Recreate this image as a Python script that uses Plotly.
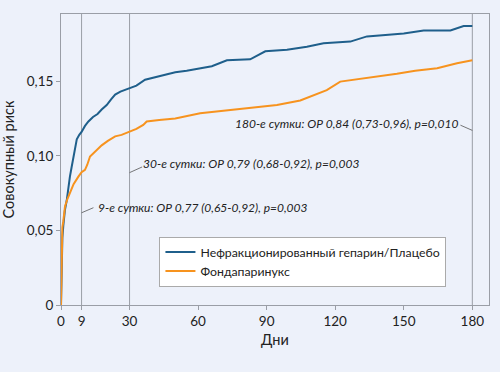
import plotly.graph_objects as go

# Data
days_ufh = [0, 0.3, 0.6, 1.0, 1.75, 2.5, 3.2, 3.9, 4.6, 5.4, 6.2, 6.9, 8.0, 9.0, 10.5, 12.0, 14.0, 16.0, 17.8, 20.0, 22.0, 23.7, 26.0, 29.5,
            33.0, 36.8, 42.0, 50.0, 55.0, 60.9, 66.0, 72.6, 82.8, 89.4, 98.9, 107.6, 114.9, 126.6, 133.9, 142.0, 150.0, 158.7, 170.4, 176.2, 180.0]
risk_ufh = [0, 0.030, 0.045, 0.053, 0.064, 0.070, 0.080, 0.086, 0.092, 0.0995, 0.106, 0.111, 0.114, 0.116, 0.120, 0.123, 0.126, 0.128, 0.131, 0.134, 0.138, 0.141, 0.143, 0.145,
            0.147, 0.151, 0.153, 0.156, 0.157, 0.1586, 0.160, 0.164, 0.1646, 0.170, 0.171, 0.173, 0.1754, 0.1765, 0.180, 0.181, 0.182, 0.184, 0.184, 0.187, 0.187]

days_fonda = [0, 0.3, 0.6, 1.0, 1.75, 2.8, 3.9, 5.5, 7.6, 9.0, 10.5, 11.5, 12.7, 15.0, 17.8, 20.5, 23.7, 26.5, 29.5, 33.0, 36.0, 37.5, 43.0, 50.0,
              60.9, 70.0, 82.8, 94.5, 104.7, 110.0, 116.3, 122.2, 133.9, 147.0, 155.0, 164.6, 173.3, 180.0]
risk_fonda = [0, 0.030, 0.052, 0.056, 0.066, 0.071, 0.075, 0.081, 0.086, 0.089, 0.0906, 0.094, 0.0995, 0.103, 0.107, 0.110, 0.113, 0.114, 0.116, 0.118, 0.1207, 0.123, 0.124, 0.125,
              0.1285, 0.130, 0.1318, 0.134, 0.137, 0.140, 0.144, 0.1497, 0.152, 0.155, 0.157, 0.1586, 0.162, 0.164]

series_names = ["Нефракционированный гепарин/Плацебо", "Фондапаринукс"]
marker_days = [9, 30, 180]
x_ticks = [0, 9, 30, 60, 90, 120, 150, 180]
y_ticks = [0, 0.05, 0.10, 0.15]
y_tick_labels = ["0", "0,05", "0,10", "0,15"]
notes = ["9-е сутки: ОР 0,77 (0,65-0,92), p=0,003",
         "30-е сутки: ОР 0,79 (0,68-0,92), p=0,003",
         "180-е сутки: ОР 0,84 (0,73-0,96), p=0,010"]

BLUE = "#1f5f8b"
ORANGE = "#f7931e"
GREY = "#9a9ea6"
BG = "#edf1fa"
FONT = "Lato"

fig = go.Figure()
fig.add_trace(go.Scatter(x=days_ufh, y=risk_ufh, mode="lines", name=series_names[0],
                         line=dict(color=BLUE, width=2)))
fig.add_trace(go.Scatter(x=days_fonda, y=risk_fonda, mode="lines", name=series_names[1],
                         line=dict(color=ORANGE, width=2)))

for d in marker_days:
    fig.add_shape(type="line", xref="x", yref="paper", x0=d, x1=d, y0=0, y1=1,
                  line=dict(color=GREY, width=1), layer="below")

# annotations with leader lines (positions in data coords)
ann = [
    dict(x0=9, y0=0.0618, x1=14.2, y1=0.0652, text=notes[0], tx=15.2, ty=0.0655, anchor="left"),
    dict(x0=30, y0=0.0887, x1=35.5, y1=0.0925, text=notes[1], tx=35.0, ty=0.0950, anchor="left"),
    dict(x0=180, y0=0.1170, x1=174.8, y1=0.1205, text=notes[2], tx=174.5, ty=0.1215, anchor="right"),
]
for a in ann:
    fig.add_shape(type="line", xref="x", yref="y", x0=a["x0"], y0=a["y0"], x1=a["x1"], y1=a["y1"],
                  line=dict(color="#555555", width=0.8))
    fig.add_annotation(x=a["tx"], y=a["ty"], xref="x", yref="y", text="<i>" + a["text"] + "</i>",
                       showarrow=False, xanchor=a["anchor"], yanchor="middle",
                       font=dict(family=FONT, size=12, color="#222222"))

fig.update_layout(
    width=500, height=372,
    margin=dict(l=61, r=11, t=14, b=67),
    paper_bgcolor=BG, plot_bgcolor=BG,
    font=dict(family=FONT, color="#222222"),
    showlegend=True,
    legend=dict(x=0.23, y=0.235, xanchor="left", yanchor="top",
                bgcolor="white", bordercolor="#aaaaaa", borderwidth=1,
                font=dict(family=FONT, size=12.3, color="#222222"),
                itemwidth=30, tracegroupgap=0),
)
fig.update_xaxes(range=[0, 187.3], tickvals=x_ticks, ticks="outside", ticklen=4,
                 tickcolor=GREY, showgrid=False, zeroline=False, automargin=False,
                 showline=True, linecolor=GREY, linewidth=1, mirror=True,
                 tickfont=dict(family=FONT, size=13.5),
                 title=dict(text="Дни", font=dict(family=FONT, size=14.5), standoff=6))
fig.update_yaxes(range=[0, 0.195], tickvals=y_ticks, ticktext=y_tick_labels, ticks="outside",
                 ticklen=4, tickcolor=GREY, showgrid=False, zeroline=False, automargin=False,
                 showline=True, linecolor=GREY, linewidth=1, mirror=True,
                 tickfont=dict(family=FONT, size=13.5),
                 title=dict(text="Совокупный риск", font=dict(family=FONT, size=14.5), standoff=10))

fig.write_html("out.html", config={"displayModeBar": False},
               post_script="document.body.style.margin='0';document.body.style.background='" + BG + "';")
